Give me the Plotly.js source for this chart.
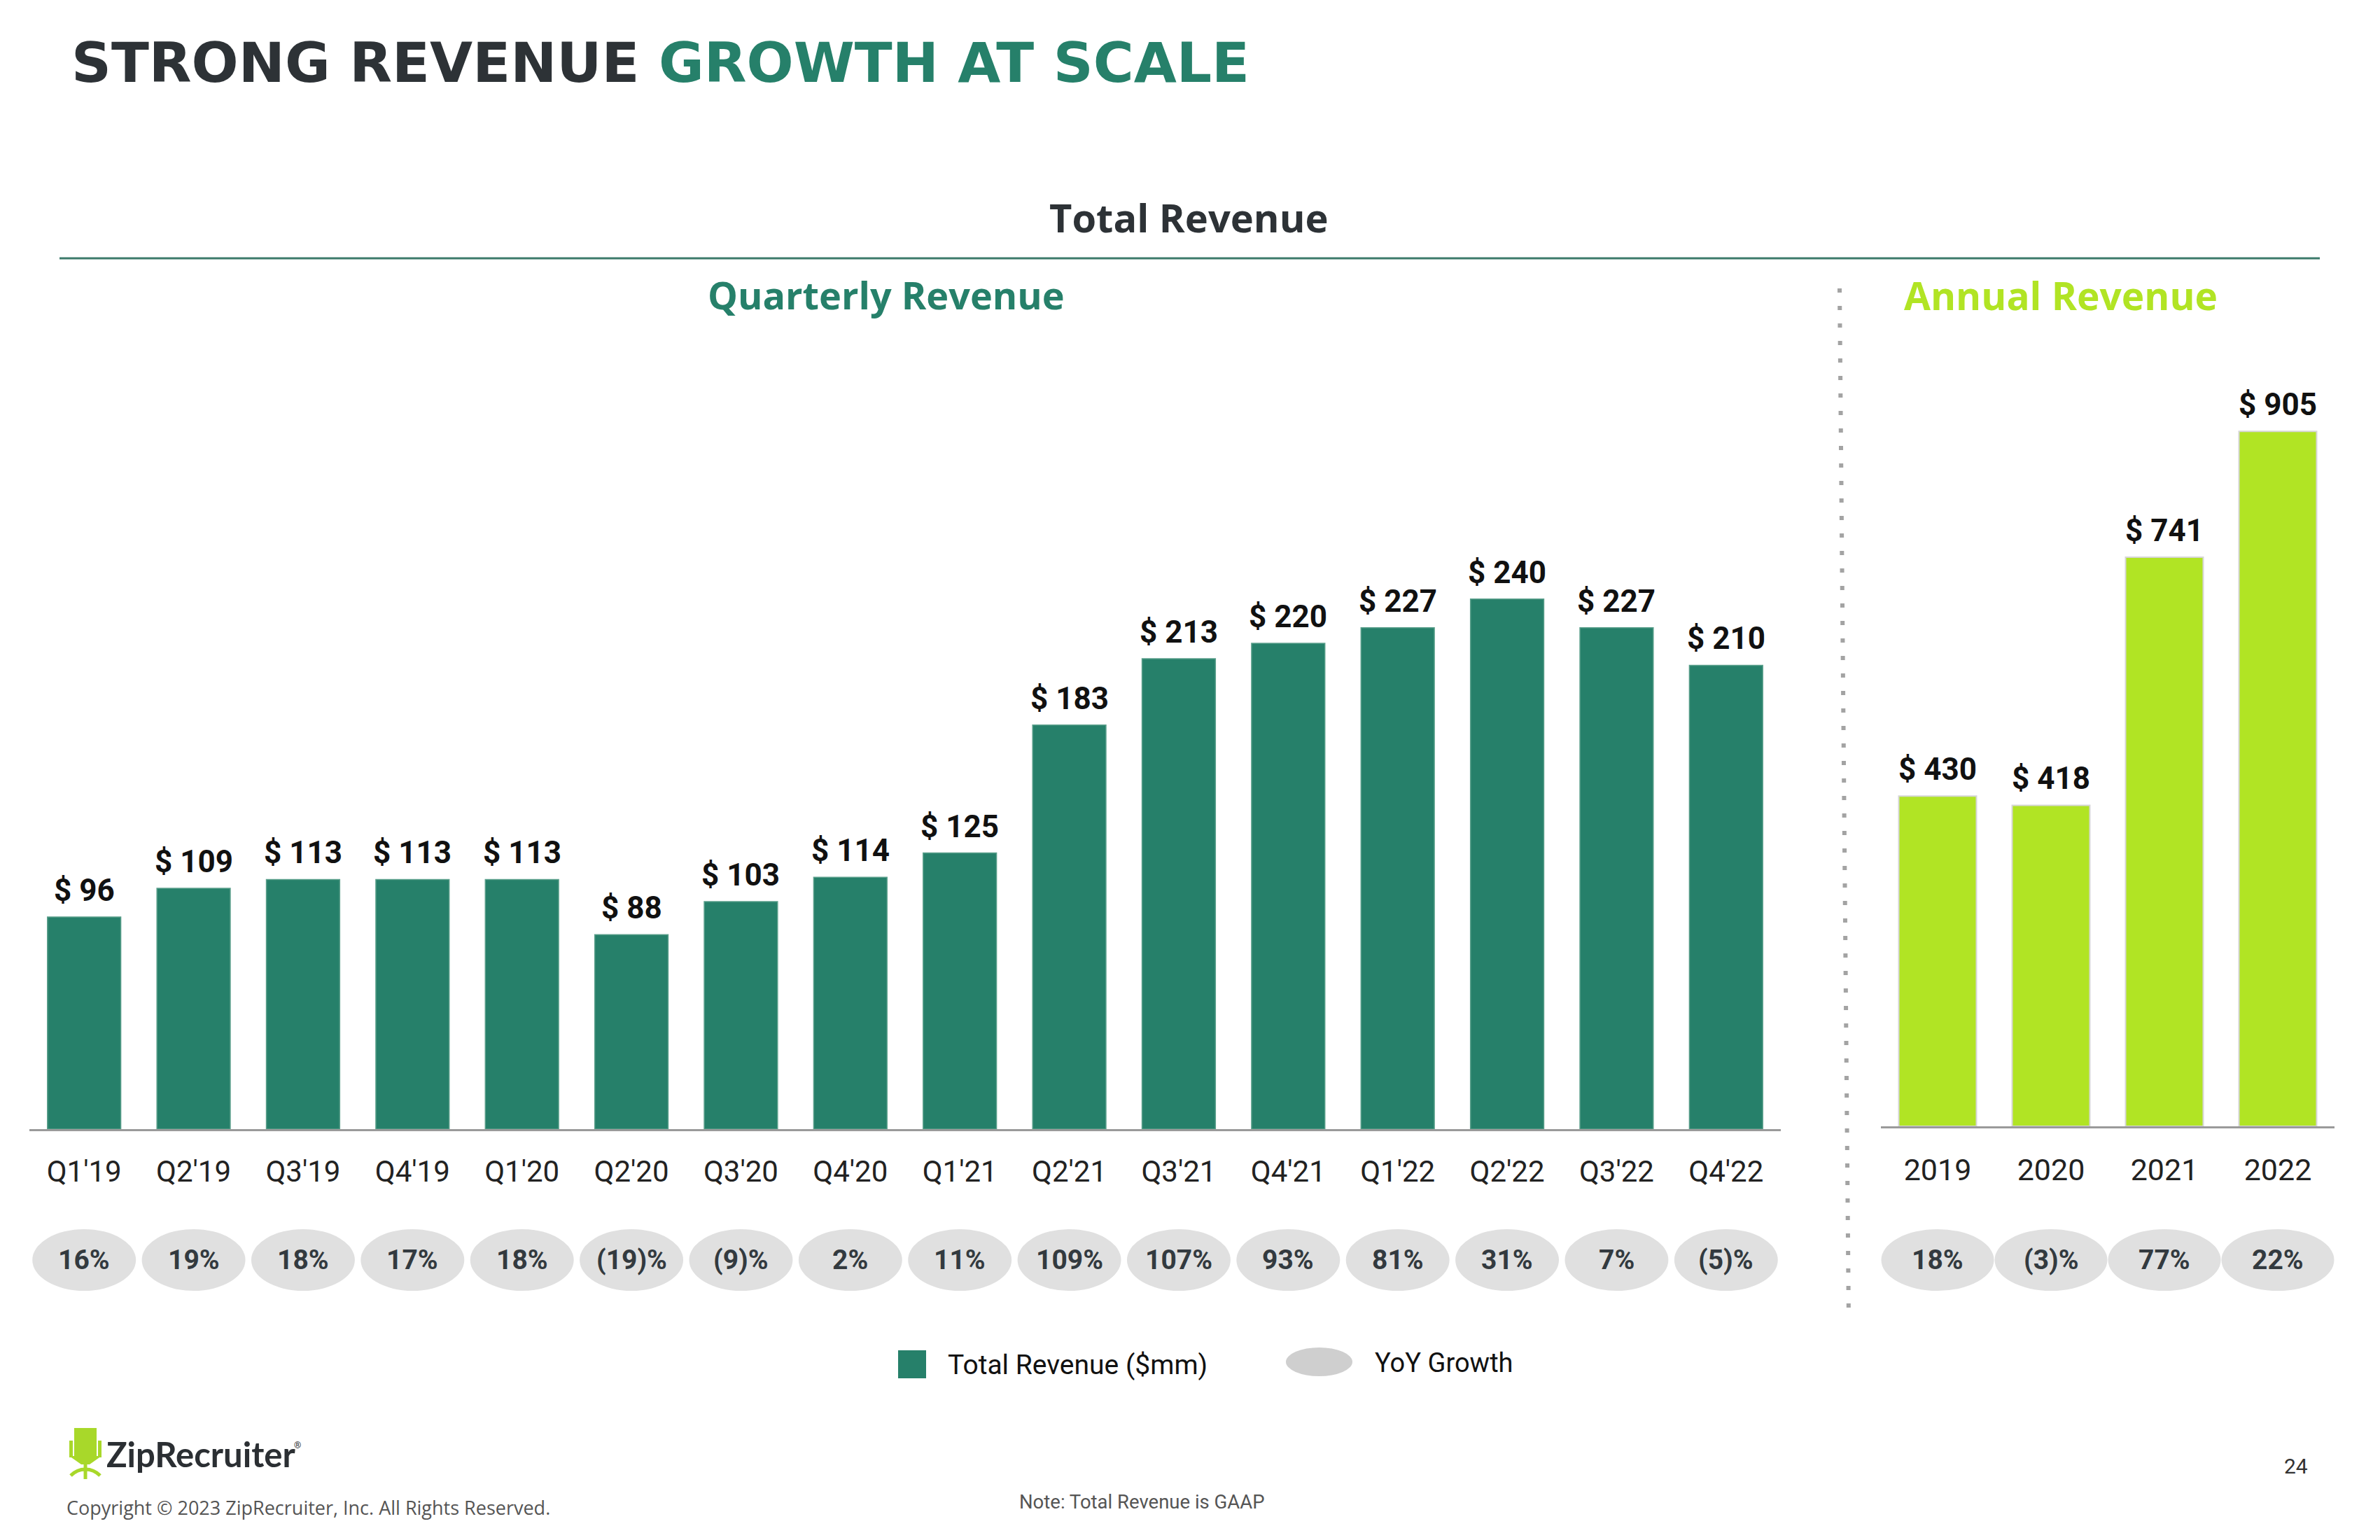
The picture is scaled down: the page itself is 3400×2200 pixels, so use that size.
<!DOCTYPE html>
<html>
<head>
<meta charset="utf-8">
<script src="https://cdn.plot.ly/plotly-3.0.1.min.js"></script>
<style>
  html, body { margin: 0; padding: 0; background: #ffffff; }
  #chart { width: 3400px; height: 2200px; }
</style>
</head>
<body>
<div id="chart"></div>
<script>
// ---------- DATA ----------
const quarters = ["Q1'19","Q2'19","Q3'19","Q4'19","Q1'20","Q2'20","Q3'20","Q4'20",
                  "Q1'21","Q2'21","Q3'21","Q4'21","Q1'22","Q2'22","Q3'22","Q4'22"];
const quarterlyRevenue = [96,109,113,113,113,88,103,114,125,183,213,220,227,240,227,210];
const quarterlyGrowth = ["16%","19%","18%","17%","18%","(19)%","(9)%","2%","11%","109%","107%","93%","81%","31%","7%","(5)%"];

const years = ["2019","2020","2021","2022"];
const annualRevenue = [430,418,741,905];
const annualGrowth = ["18%","(3)%","77%","22%"];

// ---------- HELPERS ----------
const W = 3400, H = 2200;
const px = x => x / W;
const py = y => 1 - y / H;

const TEAL = '#26806a';
const LIME = '#b1e424';
const DARK = '#2d3236';

const traces = [
  {
    type: 'bar', x: quarters, y: quarterlyRevenue, xaxis: 'x', yaxis: 'y',
    width: 0.67,
    marker: { color: TEAL, line: { color: '#5a9f8b', width: 1.5 } },
    hoverinfo: 'skip', showlegend: false
  },
  {
    type: 'bar', x: years, y: annualRevenue, xaxis: 'x2', yaxis: 'y2',
    width: 0.685,
    marker: { color: LIME, line: { color: '#d6d6d6', width: 2 } },
    hoverinfo: 'skip', showlegend: false
  }
];

const shapes = [];
const annotations = [];

// header
annotations.push({
  xref: 'paper', yref: 'paper', x: px(100), y: py(90), xanchor: 'left', yanchor: 'middle',
  text: "STRONG REVENUE <span style='color:" + TEAL + "'>GROWTH AT SCALE</span>",
  showarrow: false, font: { family: 'DejaVu Sans', size: 79, weight: 700, color: DARK }
});
annotations.push({
  xref: 'paper', yref: 'paper', x: px(1698), y: py(310), xanchor: 'center', yanchor: 'middle',
  text: 'Total Revenue', showarrow: false,
  font: { family: 'Open Sans', size: 56, weight: 700, color: DARK }
});
shapes.push({ type: 'line', xref: 'paper', yref: 'paper', x0: px(85), x1: px(3314), y0: py(369), y1: py(369),
  line: { color: '#3d7a6b', width: 3 } });
annotations.push({
  xref: 'paper', yref: 'paper', x: px(1266), y: py(421), xanchor: 'center', yanchor: 'middle',
  text: 'Quarterly Revenue', showarrow: false,
  font: { family: 'Open Sans', size: 54, weight: 700, color: TEAL }
});
annotations.push({
  xref: 'paper', yref: 'paper', x: px(2944), y: py(421), xanchor: 'center', yanchor: 'middle',
  text: 'Annual Revenue', showarrow: false,
  font: { family: 'Open Sans', size: 55, weight: 700, color: LIME }
});
// dotted divider
shapes.push({ type: 'line', xref: 'paper', yref: 'paper', x0: px(2628), x1: px(2641), y0: py(412), y1: py(1886),
  line: { color: '#a3a3a3', width: 6, dash: '6px,19px' } });

// value labels & growth pills - quarterly (x given as category index)
quarters.forEach((q, i) => {
  annotations.push({
    xref: 'x', yref: 'y', x: i, y: quarterlyRevenue[i], yanchor: 'bottom', yshift: 10,
    text: '$ ' + quarterlyRevenue[i], showarrow: false,
    font: { family: 'Roboto', size: 44, weight: 700, color: '#111111' }
  });
  shapes.push({ type: 'circle', xref: 'x', yref: 'paper', x0: i - 0.473, x1: i + 0.473,
    y0: py(1844), y1: py(1756), fillcolor: '#e0e0e0', line: { width: 0 }, layer: 'below' });
  annotations.push({
    xref: 'x', yref: 'paper', x: i, y: py(1800), yanchor: 'middle',
    text: quarterlyGrowth[i], showarrow: false,
    font: { family: 'Roboto', size: 39, weight: 700, color: '#333a3f' }
  });
});
// annual
years.forEach((yr, i) => {
  annotations.push({
    xref: 'x2', yref: 'y2', x: i, y: annualRevenue[i], yanchor: 'bottom', yshift: 10,
    text: '$ ' + annualRevenue[i], showarrow: false,
    font: { family: 'Roboto', size: 44, weight: 700, color: '#111111' }
  });
  shapes.push({ type: 'circle', xref: 'x2', yref: 'paper', x0: i - 0.497, x1: i + 0.497,
    y0: py(1844), y1: py(1756), fillcolor: '#e0e0e0', line: { width: 0 }, layer: 'below' });
  annotations.push({
    xref: 'x2', yref: 'paper', x: i, y: py(1800), yanchor: 'middle',
    text: annualGrowth[i], showarrow: false,
    font: { family: 'Roboto', size: 39, weight: 700, color: '#333a3f' }
  });
});

// legend
shapes.push({ type: 'rect', xref: 'paper', yref: 'paper', x0: px(1283), x1: px(1323), y0: py(1969), y1: py(1929),
  fillcolor: TEAL, line: { width: 0 } });
annotations.push({ xref: 'paper', yref: 'paper', x: px(1352), y: py(1950), xanchor: 'left', yanchor: 'middle',
  text: 'Total Revenue ($mm)', showarrow: false, font: { family: 'Roboto', size: 39, color: '#111111' } });
shapes.push({ type: 'circle', xref: 'paper', yref: 'paper', x0: px(1837), x1: px(1932), y0: py(1966), y1: py(1925),
  fillcolor: '#cfcfcf', line: { width: 0 } });
annotations.push({ xref: 'paper', yref: 'paper', x: px(1962), y: py(1947), xanchor: 'left', yanchor: 'middle',
  text: 'YoY Growth', showarrow: false, font: { family: 'Roboto', size: 38, color: '#111111' } });

// logo (chair icon + wordmark)
const CH = '#a8d82a';
shapes.push({ type: 'rect', xref: 'paper', yref: 'paper', x0: px(106), x1: px(138), y0: py(2081), y1: py(2040), fillcolor: CH, line: { width: 0 } });
shapes.push({ type: 'rect', xref: 'paper', yref: 'paper', x0: px(99), x1: px(104), y0: py(2082), y1: py(2058), fillcolor: CH, line: { width: 0 } });
shapes.push({ type: 'rect', xref: 'paper', yref: 'paper', x0: px(140), x1: px(145), y0: py(2082), y1: py(2058), fillcolor: CH, line: { width: 0 } });
shapes.push({ type: 'path', xref: 'paper', yref: 'paper', fillcolor: CH, line: { width: 0 },
  path: 'M ' + px(99) + ' ' + py(2080) + ' L ' + px(145) + ' ' + py(2080) + ' L ' + px(128) + ' ' + py(2092) + ' L ' + px(116) + ' ' + py(2092) + ' Z' });
shapes.push({ type: 'line', xref: 'paper', yref: 'paper', x0: px(122), x1: px(122), y0: py(2090), y1: py(2113), line: { color: CH, width: 5 } });
shapes.push({ type: 'path', xref: 'paper', yref: 'paper', line: { color: CH, width: 5 },
  path: 'M ' + px(101) + ' ' + py(2108) + ' Q ' + px(110) + ' ' + py(2099) + ' ' + px(122) + ' ' + py(2099) + ' Q ' + px(134) + ' ' + py(2099) + ' ' + px(143) + ' ' + py(2108) });
annotations.push({ xref: 'paper', yref: 'paper', x: px(150), y: py(2077), xanchor: 'left', yanchor: 'middle',
  text: 'ZipRecruiter', showarrow: false, font: { family: 'Lato', size: 49, weight: 700, color: '#2b2f33' } });
annotations.push({ xref: 'paper', yref: 'paper', x: px(418), y: py(2064), xanchor: 'left', yanchor: 'middle',
  text: '®', showarrow: false, font: { family: 'Roboto', size: 13, color: '#2b2f33' } });

// footer texts
annotations.push({ xref: 'paper', yref: 'paper', x: px(93), y: py(2153), xanchor: 'left', yanchor: 'middle',
  text: 'Copyright © 2023 ZipRecruiter, Inc. All Rights Reserved.', showarrow: false,
  font: { family: 'Open Sans', size: 27, color: '#555555' } });
annotations.push({ xref: 'paper', yref: 'paper', x: px(1631), y: py(2145), xanchor: 'center', yanchor: 'middle',
  text: 'Note: Total Revenue is GAAP', showarrow: false,
  font: { family: 'Roboto', size: 27.5, color: '#555555' } });
annotations.push({ xref: 'paper', yref: 'paper', x: px(3280), y: py(2094), xanchor: 'center', yanchor: 'middle',
  text: '24', showarrow: false, font: { family: 'Roboto', size: 30, color: '#333333' } });

const layout = {
  width: W, height: H,
  margin: { l: 0, r: 0, t: 0, b: 0 },
  paper_bgcolor: '#ffffff', plot_bgcolor: 'rgba(0,0,0,0)',
  showlegend: false,
  xaxis: {
    domain: [px(42), px(2544)], anchor: 'y', type: 'category',
    range: [-0.5, quarters.length - 0.5],
    showline: true, linecolor: '#9a9a9a', linewidth: 3, ticks: '',
    showgrid: false, zeroline: false, ticklabelstandoff: 22,
    tickfont: { family: 'Roboto', size: 42, color: '#222222' }, fixedrange: true
  },
  yaxis: {
    domain: [py(1613), py(450)], anchor: 'x', range: [0, 1163 / 3.155],
    visible: false, fixedrange: true
  },
  xaxis2: {
    domain: [px(2687), px(3335)], anchor: 'y2', type: 'category',
    range: [-0.5, years.length - 0.5],
    showline: true, linecolor: '#9a9a9a', linewidth: 3, ticks: '',
    showgrid: false, zeroline: false, ticklabelstandoff: 22,
    tickfont: { family: 'Roboto', size: 43, color: '#222222' }, fixedrange: true
  },
  yaxis2: {
    domain: [py(1609), py(450)], anchor: 'x2', range: [0, 1159 / 1.097],
    visible: false, fixedrange: true
  },
  shapes: shapes,
  annotations: annotations
};

Plotly.newPlot('chart', traces, layout, { staticPlot: true, displayModeBar: false });
</script>
</body>
</html>
